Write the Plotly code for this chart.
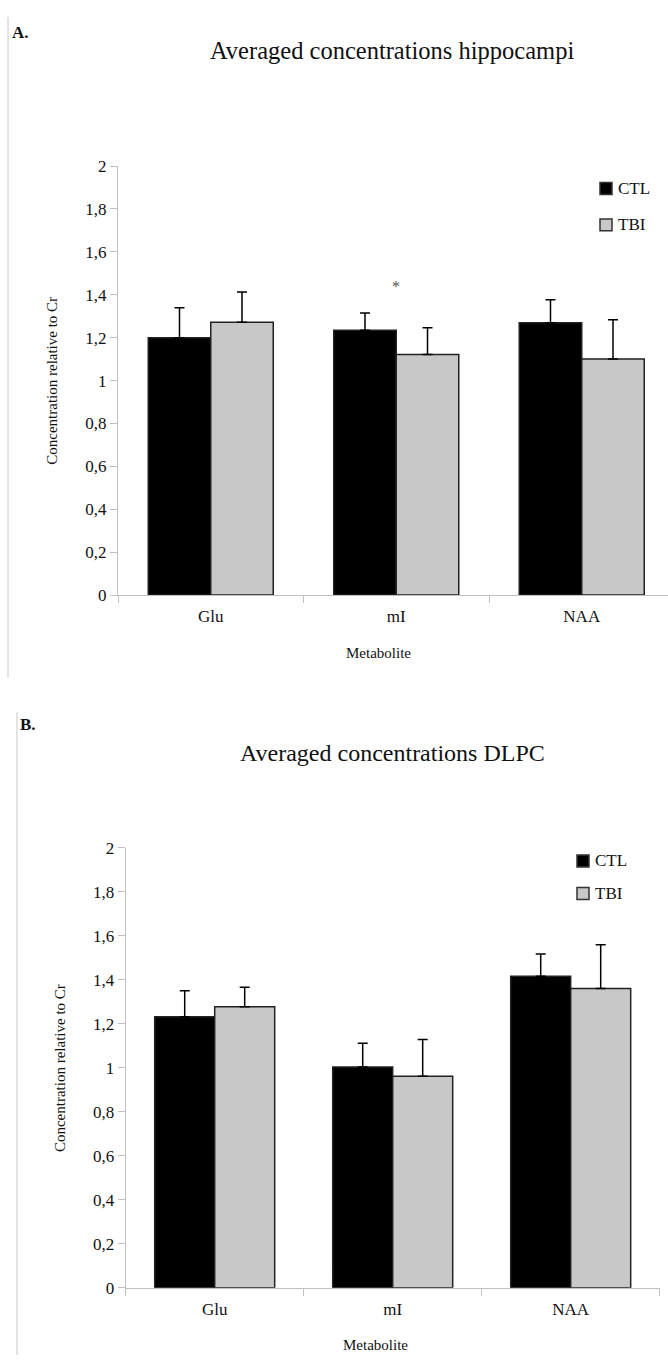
import plotly.graph_objects as go

W, H = 668, 1365

categories = ["Glu", "mI", "NAA"]
groups = ["CTL", "TBI"]

# Panel A - hippocampi
a_ctl = [1.20, 1.235, 1.27]
a_ctl_err = [0.14, 0.08, 0.107]
a_tbi = [1.272, 1.121, 1.101]
a_tbi_err = [0.141, 0.125, 0.183]

# Panel B - DLPC
b_ctl = [1.232, 1.003, 1.416]
b_ctl_err = [0.118, 0.108, 0.101]
b_tbi = [1.277, 0.961, 1.360]
b_tbi_err = [0.089, 0.168, 0.199]

y_tickvals = [0, 0.2, 0.4, 0.6, 0.8, 1.0, 1.2, 1.4, 1.6, 1.8, 2.0]
y_ticktext = ["0", "0,2", "0,4", "0,6", "0,8", "1", "1,2", "1,4", "1,6", "1,8", "2"]

FONT = "Liberation Serif"
colors = {"CTL": "#000000", "TBI": "#c8c8c8"}


def px(x):
    return x / W


def py(y):
    return 1 - y / H


fig = go.Figure()


def add_bars(vals, errs, name, xa, ya):
    fig.add_trace(go.Bar(
        x=categories, y=vals, name=name, xaxis=xa, yaxis=ya,
        marker=dict(color=colors[name], line=dict(color="#222222", width=1.5)),
        error_y=dict(type="data", array=errs, arrayminus=[0] * len(errs), symmetric=False,
                     color="#000000", thickness=1.5, width=5),
        showlegend=False,
    ))


add_bars(a_ctl, a_ctl_err, "CTL", "x", "y")
add_bars(a_tbi, a_tbi_err, "TBI", "x", "y")
add_bars(b_ctl, b_ctl_err, "CTL", "x2", "y2")
add_bars(b_tbi, b_tbi_err, "TBI", "x2", "y2")

axis_common = dict(showline=True, linecolor="#c0c0c0", linewidth=1, ticks="outside",
                   ticklen=7, tickcolor="#c0c0c0", showgrid=False, zeroline=False,
                   tickfont=dict(family=FONT, size=17, color="#111111"))

# Panel A geometry
a_x0, a_cat = 118, 185.5
a_y0, a_y2 = 594.3, 159.3
# Panel B geometry
b_x0, b_x1 = 125.7, 659.7
b_y0, b_y2 = 1296.7, 850.7

fig.update_layout(
    width=W, height=H, margin=dict(l=0, r=0, t=0, b=0),
    paper_bgcolor="white", plot_bgcolor="white",
    barmode="group", bargap=0.326, bargroupgap=0,
    font=dict(family=FONT, color="#111111"),
    xaxis=dict(domain=[px(a_x0), 1.0], range=[-0.5, -0.5 + (W - a_x0) / a_cat],
               type="category", tickson="boundaries", anchor="y",
               ticklabelstandoff=6, **axis_common),
    yaxis=dict(domain=[py(a_y0), py(a_y2)], range=[0, 2], tickvals=y_tickvals,
               ticktext=y_ticktext, anchor="x", **axis_common),
    xaxis2=dict(domain=[px(b_x0), px(b_x1)], range=[-0.5, 2.5], type="category",
                tickson="boundaries", anchor="y2", ticklabelstandoff=6, **axis_common),
    yaxis2=dict(domain=[py(b_y0), py(b_y2)], range=[0, 2], tickvals=y_tickvals,
                ticktext=y_ticktext, anchor="x2", **axis_common),
)


def ann(text, x, y, size, bold=False, angle=0, xanchor="center", color="#111111"):
    fig.add_annotation(text=f"<b>{text}</b>" if bold else text, x=px(x), y=py(y),
                       xref="paper", yref="paper", showarrow=False, textangle=angle,
                       xanchor=xanchor, yanchor="middle",
                       font=dict(family=FONT, size=size, color=color))


# Panel labels and titles
ann("A.", 10, 24, 17, bold=True, xanchor="left")
ann("Averaged concentrations hippocampi", 392, 42, 24.5)
ann("B.", 18, 726, 17, bold=True, xanchor="left")
ann("Averaged concentrations DLPC", 392, 754, 24)

# Axis titles
ann("Concentration relative to Cr", 52, 377, 15, angle=-90)
ann("Metabolite", 379, 653, 15)
ann("Concentration relative to Cr", 60, 1074, 15, angle=-90)
ann("Metabolite", 375, 1355, 15)

# Significance marker
fig.add_annotation(text="*", x="mI", y=1.44, xref="x", yref="y", showarrow=False,
                   font=dict(family=FONT, size=16, color="#555555"))


# Manual legends
def legend_item(name, bx, by):
    fig.add_shape(type="rect", xref="paper", yref="paper",
                  x0=px(bx), x1=px(bx + 12), y0=py(by + 6), y1=py(by - 6),
                  fillcolor=colors[name], line=dict(color="#333333", width=1.5))
    ann(name, bx + 16, by, 17, xanchor="left")


legend_item("CTL", 600, 182)
legend_item("TBI", 600, 219)
legend_item("CTL", 577, 864)
legend_item("TBI", 577, 897)

# Panel border lines (left side)
fig.add_shape(type="line", xref="paper", yref="paper", x0=px(8), x1=px(8),
              y0=py(8), y1=py(678), line=dict(color="#c8c8c8", width=1))
fig.add_shape(type="line", xref="paper", yref="paper", x0=px(17), x1=px(17),
              y0=py(713), y1=py(1365), line=dict(color="#c8c8c8", width=1))

fig.write_html("out.html")
